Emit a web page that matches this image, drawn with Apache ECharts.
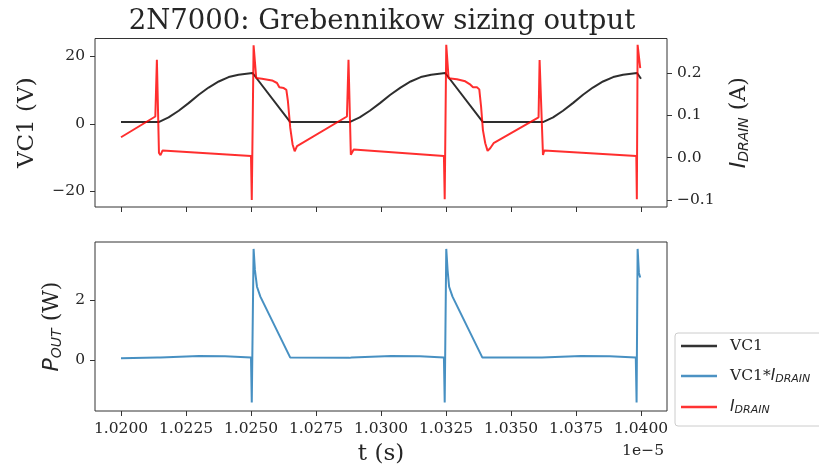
<!DOCTYPE html>
<html>
<head>
<meta charset="utf-8">
<script src="https://cdn.jsdelivr.net/npm/echarts@6/dist/echarts.min.js"></script>
<style>html,body{margin:0;padding:0;background:#fff;}#c{width:819px;height:472px;}</style>
</head>
<body>
<div id="c"></div>
<script>
// time in units of 1e-5 s
const tV = [1.02000,1.02145,1.02183,1.02222,1.02260,1.02299,1.02337,1.02376,1.02414,1.02452,1.02506,1.02651,
            1.02879,1.02918,1.02957,1.02996,1.03036,1.03075,1.03114,1.03153,1.03193,1.03247,1.03392,
            1.03623,1.03662,1.03700,1.03738,1.03777,1.03815,1.03854,1.03893,1.03931,1.03985,1.04000];
const vc1 = [0.5,0.5,1.87,3.84,6.10,8.57,10.7,12.5,13.8,14.5,15.0,0.5,
             0.5,1.87,3.84,6.10,8.57,10.7,12.5,13.8,14.5,15.0,0.5,
             0.5,1.87,3.84,6.10,8.57,10.7,12.5,13.8,14.5,15.0,13.3];
const tI = [1.02000,1.02132,1.02138,1.02146,1.02152,1.02160,1.02500,1.02503,1.02510,1.02520,1.02542,1.02581,1.02600,1.02609,1.02626,1.02636,1.02642,1.02651,1.02660,1.02668,1.02677,
            1.02869,1.02875,1.02884,1.02889,1.02895,1.03242,1.03245,1.03251,1.03260,1.03292,1.03324,1.03344,1.03354,1.03369,1.03378,1.03385,1.03392,1.03401,1.03410,1.03420,1.03433,
            1.03606,1.03610,1.03623,1.03628,1.03982,1.03984,1.03987,1.03997];
const iDrain = [0.048,0.097,0.231,0.011,0.006,0.017,0.004,-0.100,0.265,0.188,0.186,0.182,0.176,0.166,0.164,0.160,0.133,0.070,0.031,0.015,0.027,
                0.097,0.231,0.007,0.005,0.019,0.004,-0.098,0.266,0.187,0.185,0.180,0.172,0.166,0.166,0.161,0.120,0.065,0.034,0.016,0.022,0.034,
                0.095,0.230,0.006,0.017,0.004,-0.098,0.266,0.211];
const tP = [1.02000,1.02140,1.02145,1.02152,1.02300,1.02400,1.02500,1.02503,1.02510,1.02515,1.02523,1.02536,1.02651,
            1.02879,1.02882,1.02887,1.03040,1.03150,1.03242,1.03245,1.03251,1.03256,1.03262,1.03275,1.03390,
            1.03619,1.03622,1.03625,1.03770,1.03880,1.03980,1.03983,1.03987,1.03992,1.03997];
const pOut = [0.06,0.08,0.04,0.08,0.13,0.12,0.08,-1.42,3.70,3.00,2.44,2.11,0.08,
              0.07,0.04,0.08,0.13,0.12,0.08,-1.42,3.70,3.00,2.44,2.11,0.08,
              0.08,0.03,0.08,0.13,0.12,0.08,-1.42,3.70,2.90,2.75];
const xTicks = [1.0200,1.0225,1.0250,1.0275,1.0300,1.0325,1.0350,1.0375,1.0400];
const vTicks = [-20,0,20];
const iTicks = [-0.1,0.0,0.1,0.2];
const pTicks = [0,2];

const SERIF = 'DejaVu Serif', SANS = 'DejaVu Sans', TXT = '#262626';
const minus = s => String(s).replace('-', '\u2212');
const rich = {
  n: {fontFamily: SERIF, fontSize: 22, color: TXT},
  i: {fontFamily: SANS, fontStyle: 'italic', fontSize: 22, color: TXT},
  s: {fontFamily: SANS, fontStyle: 'italic', fontSize: 14, color: TXT, padding: [10,0,0,0]},
  ln: {fontFamily: SERIF, fontSize: 15.5, color: TXT},
  li: {fontFamily: SANS, fontStyle: 'italic', fontSize: 15.5, color: TXT},
  ls: {fontFamily: SANS, fontStyle: 'italic', fontSize: 11, color: TXT, padding: [7,0,0,0]}
};
const tick = vals => ({show: true, customValues: vals, length: 5, lineStyle: {color: '#333', width: 1}});
const lab = (vals, fmt, show) => ({show: show !== false, customValues: vals, formatter: fmt, fontFamily: SERIF, fontSize: 15.5, color: TXT, margin: 10});

const chart = echarts.init(document.getElementById('c'), null, {renderer: 'canvas'});
chart.setOption({
  animation: false,
  backgroundColor: '#fff',
  title: {text: '2N7000: Grebennikow sizing output', left: 377, textAlign: 'center', top: 3,
          textStyle: {fontFamily: SERIF, fontSize: 27.5, fontWeight: 'normal', color: TXT}},
  grid: [
    {left: 95, right: 152, top: 38.5, height: 168.5, show: true, borderColor: '#333', borderWidth: 1},
    {left: 95, right: 152, top: 242, height: 169, show: true, borderColor: '#333', borderWidth: 1}
  ],
  xAxis: [
    {gridIndex: 0, type: 'value', min: 1.019, max: 1.041, axisLine: {show: false, onZero: false},
     axisTick: tick(xTicks), axisLabel: lab(xTicks, v => v.toFixed(4), false), splitLine: {show: false}},
    {gridIndex: 1, type: 'value', min: 1.019, max: 1.041, axisLine: {show: false, onZero: false},
     axisTick: tick(xTicks), axisLabel: lab(xTicks, v => v.toFixed(4)), splitLine: {show: false},
     name: 't (s)', nameLocation: 'middle', nameGap: 32,
     nameTextStyle: {fontFamily: SERIF, fontSize: 23, color: TXT}}
  ],
  yAxis: [
    {gridIndex: 0, type: 'value', min: -24.6, max: 25.2, position: 'left', axisLine: {show: false},
     axisTick: tick(vTicks), axisLabel: lab(vTicks, v => minus(v)), splitLine: {show: false},
     name: 'VC1 (V)', nameLocation: 'middle', nameRotate: 90, nameGap: 56,
     nameTextStyle: {fontFamily: SERIF, fontSize: 23, color: TXT}},
    {gridIndex: 0, type: 'value', min: -0.1165, max: 0.281, position: 'right', axisLine: {show: false},
     axisTick: tick(iTicks), axisLabel: lab(iTicks, v => minus(v.toFixed(1))), splitLine: {show: false},
     name: '{i|I}{s|DRAIN}{n| (A)}', nameLocation: 'middle', nameRotate: 90, nameGap: 60,
     nameTextStyle: {rich: rich}},
    {gridIndex: 1, type: 'value', min: -1.7, max: 3.93, position: 'left', axisLine: {show: false},
     axisTick: tick(pTicks), axisLabel: lab(pTicks, v => minus(v)), splitLine: {show: false},
     name: '{i|P}{s|OUT}{n| (W)}', nameLocation: 'middle', nameRotate: 90, nameGap: 31,
     nameTextStyle: {rich: rich}}
  ],
  legend: {
    orient: 'vertical', left: 675, top: 333, padding: [5, 40, 10, 6], itemGap: 14,
    itemWidth: 36, itemHeight: 2.5, icon: 'rect',
    borderColor: '#cccccc', borderWidth: 1, borderRadius: 3, backgroundColor: '#fff',
    data: ['VC1', 'VC1*I_DRAIN', 'I_DRAIN'],
    formatter: function (name) {
      if (name === 'VC1') return '{ln|VC1}';
      if (name === 'VC1*I_DRAIN') return '{ln|VC1*}{li|I}{ls|DRAIN}';
      return '{li|I}{ls|DRAIN}';
    },
    textStyle: {rich: rich, padding: [0, 0, 0, 8]}
  },
  graphic: [
    {type: 'text', x: 664, y: 443, style: {text: '1e\u22125', align: 'right', fontFamily: SERIF, fontSize: 15.5, fill: TXT}}
  ],
  series: [
    {name: 'VC1', type: 'line', xAxisIndex: 0, yAxisIndex: 0, showSymbol: false, z: 2,
     data: tV.map((t, k) => [t, vc1[k]]),
     lineStyle: {color: '#000', width: 2, opacity: 0.82}, itemStyle: {color: '#333'}},
    {name: 'VC1*I_DRAIN', type: 'line', xAxisIndex: 1, yAxisIndex: 2, showSymbol: false, z: 2,
     data: tP.map((t, k) => [t, pOut[k]]),
     lineStyle: {color: '#1f77b4', width: 2, opacity: 0.82}, itemStyle: {color: '#4c92c3'}},
    {name: 'I_DRAIN', type: 'line', xAxisIndex: 0, yAxisIndex: 1, showSymbol: false, z: 3,
     data: tI.map((t, k) => [t, iDrain[k]]),
     lineStyle: {color: '#ff0000', width: 2, opacity: 0.82}, itemStyle: {color: '#ff3333'}}
  ]
});
</script>
</body>
</html>
